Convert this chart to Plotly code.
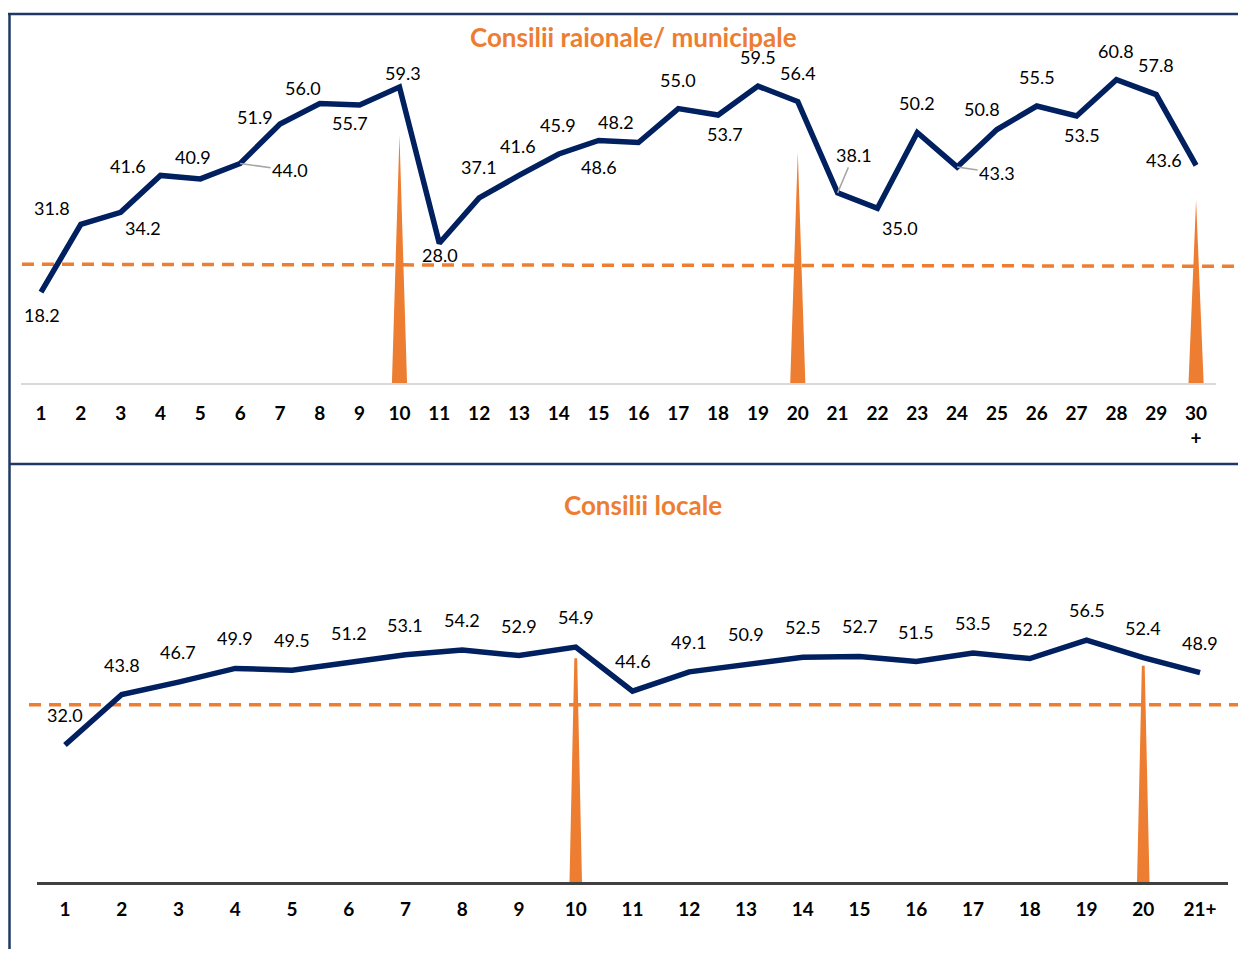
import plotly.graph_objects as go

# ---------------- data ----------------
top_x = list(range(1, 31))
top_ticktext = [str(i) for i in range(1, 30)] + ["30<br>+"]
top_values = [18.2, 31.8, 34.2, 41.6, 40.9, 44.0, 51.9, 56.0, 55.7, 59.3,
              28.0, 37.1, 41.6, 45.9, 48.6, 48.2, 55.0, 53.7, 59.5, 56.4,
              38.1, 35.0, 50.2, 43.3, 50.8, 55.5, 53.5, 60.8, 57.8, 43.6]
top_spike_x = [10, 20, 30]
top_spike_values = [49.7, 46.3, 36.7]
top_ref_values = [23.8, 23.4]

bot_x = list(range(1, 22))
bot_ticktext = [str(i) for i in range(1, 21)] + ["21+"]
bot_values = [32.0, 43.8, 46.7, 49.9, 49.5, 51.2, 53.1, 54.2, 52.9, 54.9,
              44.6, 49.1, 50.9, 52.5, 52.7, 51.5, 53.5, 52.2, 56.5, 52.4, 48.9]
bot_spike_x = [10, 20]
bot_spike_values = [52.3, 50.5]
bot_ref_values = [41.4, 41.4]

title_top = "Consilii raionale/ municipale"
title_bot = "Consilii locale"

# ---------------- styles ----------------
NAVY = "#002060"
ORANGE = "#ED7D31"
FRAME = "#1F3864"
FONT = "Lato"
OX, OY = 8, 8            # page body margin of the html page
W, H = 1246 - OX, 957 - 2 * OY


def pxx(x):
    return (x - OX) / W


def pxy(y):
    return 1 - (y - OY) / H


# label offsets (px, dx right, dy down) for top panel labels
top_lbl_dx = [1, -29, 22, -32, -7, 50, -25, -17, -10, 4,
              1, 0, -1, -1, 0, -22, 0, 7, 0, 0,
              16, 23, 0, 40, -15, 0, 5, 0, 0, -32]
top_lbl_dy = [23, -16, 16, -9, -22, 7, -7, -16, 18, -14,
              12, -31, -29, -29, 27, -20, -29, 19, -29, -29,
              -38, 20, -30, 6, -21, -29, 19, -29, -30, -5]
top_leader = [6, 21, 24]


def spike_shape(xs, hs, base_hw, tip_hw):
    px, py = [], []
    for x, h in zip(xs, hs):
        px += [x - base_hw, x - tip_hw, x + tip_hw, x + base_hw, x - base_hw, None]
        py += [0, h, h, 0, 0, None]
    return px, py


fig = go.Figure()

# top panel
sx, sy = spike_shape(top_spike_x, top_spike_values, 0.19, 0.0)
fig.add_trace(go.Scatter(x=sx, y=sy, mode="lines", fill="toself", fillcolor=ORANGE,
                         line=dict(width=0, color=ORANGE), hoverinfo="skip",
                         showlegend=False, xaxis="x", yaxis="y"))
fig.add_trace(go.Scatter(x=top_x, y=top_values, mode="lines",
                         line=dict(color=NAVY, width=5.5), showlegend=False,
                         xaxis="x", yaxis="y"))

# bottom panel
sx, sy = spike_shape(bot_spike_x, bot_spike_values, 0.11, 0.025)
fig.add_trace(go.Scatter(x=sx, y=sy, mode="lines", fill="toself", fillcolor=ORANGE,
                         line=dict(width=0, color=ORANGE), hoverinfo="skip",
                         showlegend=False, xaxis="x2", yaxis="y2"))
fig.add_trace(go.Scatter(x=bot_x, y=bot_values, mode="lines",
                         line=dict(color=NAVY, width=5.5), showlegend=False,
                         xaxis="x2", yaxis="y2"))

LBL = dict(family=FONT, size=18, color="black")
annotations = []
for i, (x, v) in enumerate(zip(top_x, top_values)):
    dx, dy = top_lbl_dx[i], top_lbl_dy[i]
    if x in top_leader:
        annotations.append(dict(x=x, y=v, xref="x", yref="y", text=f"{v:.1f}",
                                showarrow=True, ax=dx, ay=dy, arrowhead=0,
                                arrowwidth=1.5, arrowcolor="#A6A6A6", standoff=0,
                                font=LBL))
    else:
        annotations.append(dict(x=x, y=v, xref="x", yref="y", text=f"{v:.1f}",
                                showarrow=False, xshift=dx, yshift=-dy, font=LBL))
for x, v in zip(bot_x, bot_values):
    annotations.append(dict(x=x, y=v, xref="x2", yref="y2", text=f"{v:.1f}",
                            showarrow=False, yshift=30, font=LBL))

annotations.append(dict(x=pxx(633), y=pxy(37), xref="paper", yref="paper",
                        text=title_top, showarrow=False, yanchor="middle",
                        font=dict(family=FONT, size=26, color=ORANGE, weight="bold")))
annotations.append(dict(x=pxx(643), y=pxy(505), xref="paper", yref="paper",
                        text=title_bot, showarrow=False, yanchor="middle",
                        font=dict(family=FONT, size=26, color=ORANGE, weight="bold")))

DASH = dict(color=ORANGE, width=3.5, dash="12px,8px")
shapes = [
    # dashed reference lines
    dict(type="line", xref="paper", yref="y", x0=pxx(22), x1=1.0,
         y0=top_ref_values[0], y1=top_ref_values[1], line=DASH, layer="below"),
    dict(type="line", xref="paper", yref="y2", x0=pxx(29), x1=pxx(1238),
         y0=bot_ref_values[0], y1=bot_ref_values[1], line=DASH, layer="below"),
    # frame
    dict(type="line", xref="paper", yref="paper", x0=pxx(8), x1=1.0,
         y0=pxy(14), y1=pxy(14), line=dict(color=FRAME, width=2.5)),
    dict(type="line", xref="paper", yref="paper", x0=pxx(9.5), x1=pxx(9.5),
         y0=0, y1=pxy(14), line=dict(color=FRAME, width=2.5)),
    dict(type="line", xref="paper", yref="paper", x0=pxx(9), x1=1.0,
         y0=pxy(464), y1=pxy(464), line=dict(color=FRAME, width=2.5)),
]

tickfont = dict(family=FONT, size=19, color="black", weight="bold")

fig.update_layout(
    width=W, height=H,
    margin=dict(l=0, r=0, t=0, b=0),
    paper_bgcolor="white", plot_bgcolor="white",
    showlegend=False,
    xaxis=dict(domain=[pxx(21.08), pxx(1216.0)], range=[0.5, 30.5],
               tickvals=top_x, ticktext=top_ticktext, tickfont=tickfont,
               showgrid=False, zeroline=False, showline=True,
               linecolor="#D9D9D9", linewidth=2, ticks="",
               ticklabelstandoff=12, anchor="y"),
    yaxis=dict(domain=[pxy(383), pxy(33.7)], range=[0, 70],
               visible=False, showgrid=False, zeroline=False, anchor="x"),
    xaxis2=dict(domain=[pxx(36.6), pxx(1228.4)], range=[0.5, 21.5],
                tickvals=bot_x, ticktext=bot_ticktext, tickfont=tickfont,
                showgrid=False, zeroline=False, showline=True,
                linecolor="#404040", linewidth=3, ticks="",
                ticklabelstandoff=8, anchor="y2"),
    yaxis2=dict(domain=[pxy(882), pxy(603.8)], range=[0, 65],
                visible=False, showgrid=False, zeroline=False, anchor="x2"),
    annotations=annotations,
    shapes=shapes,
)

fig.write_html("out.html")
